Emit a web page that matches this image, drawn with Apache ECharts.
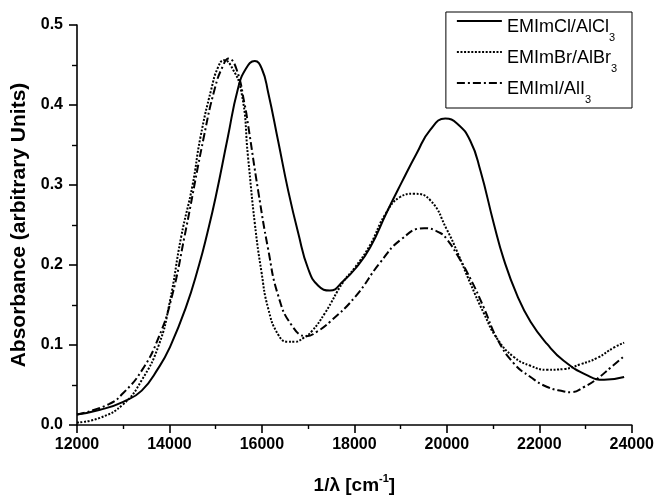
<!DOCTYPE html>
<html>
<head>
<meta charset="utf-8">
<script src="https://cdn.jsdelivr.net/npm/echarts@6/dist/echarts.min.js"></script>
<style>
html,body{margin:0;padding:0;background:#fff;}
#chart{width:657px;height:500px;}
</style>
</head>
<body>
<div id="chart"></div>
<script>
// EMImCl/AlCl3 (solid)
const clX = [12000,12500,13000,13400,13770,14000,14350,14640,14820,15000,15260,15480,15650,15846,16000,16134,16351,16568,16785,17002,17219,17470,17761,18014,18340,18701,19012,19352,19641,19967,20220,20509,20726,21015,21232,21521,21811,22172,22534,23040,23401,23835];
const clY = [0.013,0.019,0.029,0.043,0.072,0.096,0.146,0.200,0.240,0.285,0.359,0.420,0.445,0.455,0.445,0.416,0.355,0.293,0.240,0.195,0.174,0.168,0.180,0.195,0.222,0.266,0.302,0.340,0.369,0.383,0.377,0.355,0.318,0.252,0.207,0.162,0.129,0.101,0.080,0.062,0.0565,0.060];
// EMImBr/AlBr3 (dotted)
const brX = [12000,12500,13000,13400,13770,14000,14256,14500,14668,14906,15050,15180,15330,15557,15701,15846,15991,16134,16351,16560,16714,16900,17076,17364,17761,18014,18340,18665,18990,19280,19641,20003,20220,20509,20798,21087,21449,21811,22172,22534,22895,23257,23618,23835];
const brY = [0.003,0.009,0.026,0.056,0.100,0.152,0.236,0.300,0.359,0.420,0.447,0.456,0.449,0.416,0.334,0.252,0.191,0.146,0.113,0.104,0.104,0.109,0.117,0.140,0.179,0.197,0.225,0.263,0.285,0.289,0.281,0.244,0.217,0.177,0.140,0.108,0.085,0.074,0.069,0.070,0.076,0.084,0.097,0.103];
// EMImI/AlI3 (dash-dot)
const iX = [12000,12690,13000,13400,13770,14050,14327,14740,14978,15150,15280,15449,15629,15701,15918,16134,16351,16640,16967,17200,17473,18014,18557,19012,19511,19858,20003,20220,20509,20798,21087,21449,21811,22172,22534,22680,22967,23257,23546,23835];
const iY = [0.013,0.026,0.040,0.068,0.110,0.160,0.236,0.359,0.420,0.448,0.458,0.445,0.400,0.375,0.293,0.220,0.162,0.125,0.111,0.117,0.129,0.160,0.203,0.232,0.246,0.240,0.232,0.213,0.183,0.147,0.108,0.077,0.060,0.0475,0.042,0.041,0.0475,0.058,0.072,0.086];

const seriesNames = ['EMImCl/AlCl3', 'EMImBr/AlBr3', 'EMImI/AlI3'];
const xTitle = '1/λ [cm';
const xTitleSup = '-1';
const xTitleEnd = ']';
const yTitle = 'Absorbance (arbitrary Units)';

const FONT = "'Liberation Sans', Arial, Helvetica, sans-serif";
const pair = (xs, ys) => xs.map((x, i) => [x, ys[i]]);

const chart = echarts.init(document.getElementById('chart'), null, {renderer: 'canvas'});
chart.setOption({
  animation: false,
  backgroundColor: '#fff',
  textStyle: {fontFamily: FONT, color: '#000'},
  grid: {left: 77, right: 25, top: 25, bottom: 68, containLabel: false},
  legend: {
    orient: 'vertical',
    right: 25,
    top: 12,
    padding: [0, 15, 3, 10],
    itemGap: 0,
    itemWidth: 45,
    itemHeight: 14,
    borderColor: '#000',
    borderWidth: 1,
    backgroundColor: '#fff',
    data: seriesNames,
    itemStyle: {color: 'rgba(0,0,0,0)', borderColor: 'rgba(0,0,0,0)', borderWidth: 0, opacity: 0},
    formatter: function (name) {
      return '{n|' + name.slice(0, -1) + '}{s|' + name.slice(-1) + '}';
    },
    textStyle: {
      fontFamily: FONT,
      color: '#000',
      rich: {
        n: {fontSize: 18, lineHeight: 18, padding: [6.5, 0, 0, 0], verticalAlign: 'top', fontFamily: FONT, color: '#000'},
        s: {fontSize: 11, lineHeight: 11, padding: [20, 0, 0, 0], verticalAlign: 'top', fontFamily: FONT, color: '#000'}
      }
    }
  },
  xAxis: {
    type: 'value',
    min: 12000,
    max: 24000,
    interval: 2000,
    name: '{m|' + xTitle + '}{p|' + xTitleSup + '}{m|' + xTitleEnd + '}',
    nameLocation: 'middle',
    nameGap: 48,
    nameTextStyle: {
      fontFamily: FONT,
      color: '#000',
      rich: {
        m: {fontSize: 19, fontWeight: 'bold', lineHeight: 19, padding: [3, 0, 0, 0], verticalAlign: 'top', fontFamily: FONT, color: '#000'},
        p: {fontSize: 11, fontWeight: 'bold', lineHeight: 11, verticalAlign: 'top', fontFamily: FONT, color: '#000'}
      }
    },
    axisLine: {show: true, onZero: false, lineStyle: {color: '#000', width: 1.6}},
    axisTick: {show: true, inside: false, length: 8, lineStyle: {color: '#000', width: 1.6}},
    minorTick: {show: true, splitNumber: 2, length: 4, lineStyle: {color: '#000', width: 1.4}},
    splitLine: {show: false},
    axisLabel: {fontSize: 16, fontWeight: 'bold', color: '#000', fontFamily: FONT, margin: 12,
      formatter: v => String(Math.round(v))}
  },
  yAxis: {
    type: 'value',
    min: 0,
    max: 0.5,
    interval: 0.1,
    name: yTitle,
    nameLocation: 'middle',
    nameGap: 44,
    nameTextStyle: {fontSize: 21, fontWeight: 'bold', color: '#000', fontFamily: FONT},
    axisLine: {show: true, onZero: false, lineStyle: {color: '#000', width: 1.6}},
    axisTick: {show: true, inside: false, length: 8, lineStyle: {color: '#000', width: 1.6}},
    minorTick: {show: true, splitNumber: 2, length: 5, lineStyle: {color: '#000', width: 1.4}},
    splitLine: {show: false},
    axisLabel: {fontSize: 16, fontWeight: 'bold', color: '#000', fontFamily: FONT, margin: 14,
      formatter: v => v.toFixed(1)}
  },
  series: [
    {
      name: seriesNames[0], type: 'line', data: pair(clX, clY),
      symbol: 'none', showSymbol: false, smooth: 0.5,
      lineStyle: {color: '#000', width: 2, type: 'solid'},
      itemStyle: {color: '#000'}
    },
    {
      name: seriesNames[1], type: 'line', data: pair(brX, brY),
      symbol: 'none', showSymbol: false, smooth: 0.5,
      lineStyle: {color: '#000', width: 2, type: [2, 1.6]},
      itemStyle: {color: '#000'}
    },
    {
      name: seriesNames[2], type: 'line', data: pair(iX, iY),
      symbol: 'none', showSymbol: false, smooth: 0.5,
      lineStyle: {color: '#000', width: 2, type: [8, 3, 2, 3]},
      itemStyle: {color: '#000'}
    }
  ]
});
</script>
</body>
</html>
